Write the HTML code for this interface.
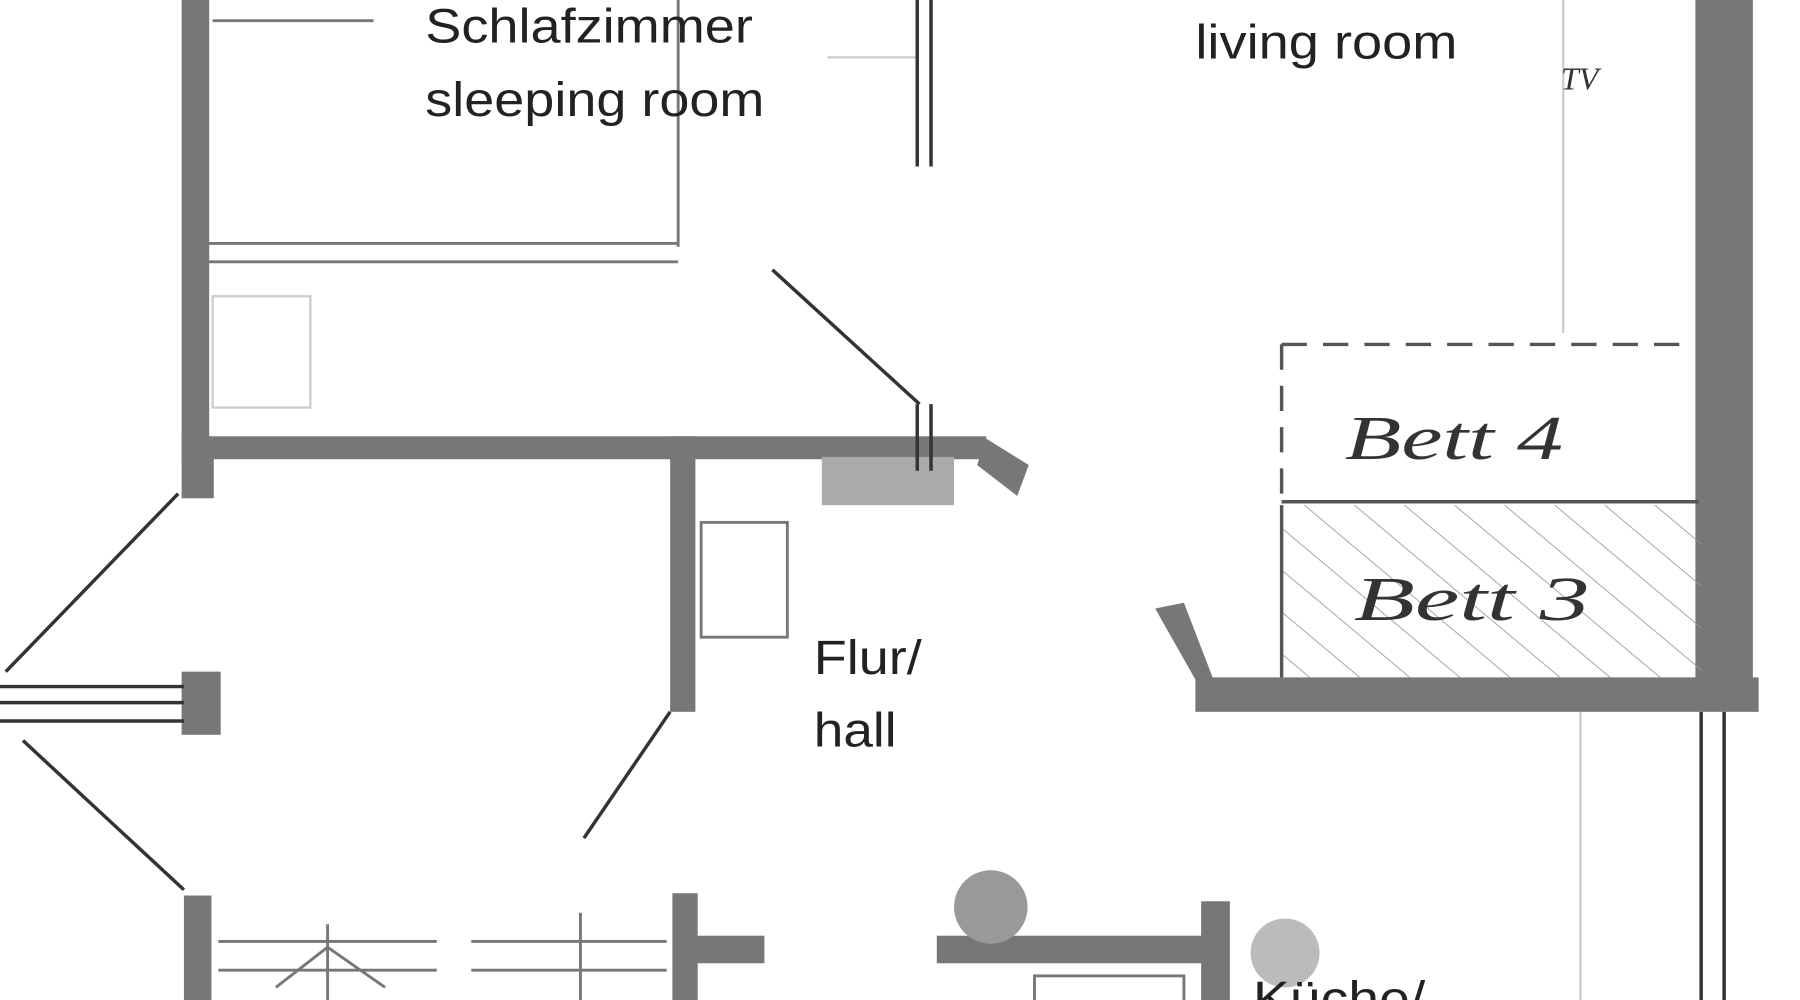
<!DOCTYPE html>
<html><head><meta charset="utf-8">
<style>
html,body{margin:0;padding:0;background:#fff;}
svg{display:block;}
text{font-family:"Liberation Sans",sans-serif;fill:#222;}
.hand{font-family:"Liberation Serif",serif;fill:#333;font-style:italic;}
</style></head>
<body>
<svg width="1800" height="1000" viewBox="0 0 1566 871" preserveAspectRatio="none" xmlns="http://www.w3.org/2000/svg">
<defs>
<pattern id="hatch" width="28" height="28" patternUnits="userSpaceOnUse" patternTransform="rotate(-50)">
<line x1="0" y1="0" x2="0" y2="28" stroke="#999" stroke-width="1.5"/>
</pattern>
</defs>
<rect width="1566" height="871" fill="#fff"/>
<g stroke="#ccc" stroke-width="2" fill="none">
<rect x="185" y="258" width="85" height="97"/>
<line x1="1360" y1="0" x2="1360" y2="290"/>
<line x1="1375" y1="620" x2="1375" y2="871"/>
<line x1="720" y1="50" x2="798" y2="50"/>
</g>
<g fill="#777">
<rect x="158" y="0" width="24" height="400"/>
<rect x="158" y="380" width="700" height="20"/>
<polygon points="858,382 895,405 885,432 850,405"/>
<rect x="583" y="380" width="22" height="240"/>
<rect x="158" y="398" width="28" height="36"/>
<rect x="158" y="585" width="34" height="55"/>
<rect x="160" y="780" width="24" height="91"/>
<rect x="585" y="778" width="22" height="93"/>
<rect x="605" y="815" width="60" height="24"/>
<rect x="815" y="815" width="235" height="24"/>
<rect x="1045" y="785" width="25" height="86"/>
<rect x="1475" y="0" width="50" height="600"/>
<rect x="1040" y="590" width="490" height="30"/>
<polygon points="1005,530 1030,525 1055,590 1040,592"/>
</g>
<rect x="715" y="398" width="115" height="42" fill="#aaa"/>
<circle cx="862" cy="790" r="32" fill="#999"/>
<circle cx="1118" cy="830" r="30" fill="#bbb"/>
<g stroke="#333" stroke-width="3" fill="none">
<line x1="798" y1="0" x2="798" y2="145"/><line x1="810" y1="0" x2="810" y2="145"/>
<line x1="798" y1="352" x2="798" y2="410"/><line x1="810" y1="352" x2="810" y2="410"/>
<line x1="672" y1="235" x2="800" y2="352"/>
<line x1="583" y1="620" x2="508" y2="730"/>
<line x1="155" y1="430" x2="5" y2="585"/>
<line x1="20" y1="645" x2="160" y2="775"/>
<line x1="0" y1="598" x2="160" y2="598"/><line x1="0" y1="612" x2="160" y2="612"/><line x1="0" y1="628" x2="160" y2="628"/>
<line x1="1480" y1="620" x2="1480" y2="871"/><line x1="1500" y1="620" x2="1500" y2="871"/>
</g>
<g stroke="#777" stroke-width="2.5" fill="none">
<line x1="176" y1="212" x2="590" y2="212"/><line x1="176" y1="228" x2="590" y2="228"/>
<line x1="590" y1="0" x2="590" y2="215"/>
<line x1="185" y1="18" x2="325" y2="18"/>
<rect x="610" y="455" width="75" height="100"/>
<line x1="190" y1="820" x2="380" y2="820"/><line x1="190" y1="845" x2="380" y2="845"/>
<line x1="410" y1="820" x2="580" y2="820"/><line x1="410" y1="845" x2="580" y2="845"/>
<line x1="285" y1="805" x2="285" y2="871"/><line x1="505" y1="795" x2="505" y2="871"/>
<line x1="240" y1="860" x2="285" y2="825"/><line x1="285" y1="825" x2="335" y2="860"/>
<rect x="900" y="850" width="130" height="30"/>
</g>
<rect x="1115" y="440" width="365" height="150" fill="url(#hatch)"/>
<g stroke="#555" stroke-width="3" fill="none">
<line x1="1115" y1="300" x2="1470" y2="300" stroke-dasharray="22,14"/>
<line x1="1115" y1="300" x2="1115" y2="435" stroke-dasharray="22,14"/>
<line x1="1115" y1="437" x2="1478" y2="437"/>
<line x1="1115" y1="440" x2="1115" y2="590"/>
</g>
<text x="370" y="37" font-size="42" textLength="285" lengthAdjust="spacingAndGlyphs">Schlafzimmer</text>
<text x="370" y="101" font-size="42" textLength="295" lengthAdjust="spacingAndGlyphs">sleeping room</text>
<text x="1040" y="51" font-size="42" textLength="228" lengthAdjust="spacingAndGlyphs">living room</text>
<text x="708" y="587" font-size="42" textLength="94" lengthAdjust="spacingAndGlyphs">Flur/</text>
<text x="708" y="650" font-size="42" textLength="72" lengthAdjust="spacingAndGlyphs">hall</text>
<text x="1090" y="884" font-size="42" textLength="150" lengthAdjust="spacingAndGlyphs">Küche/</text>
<text class="hand" x="1170" y="400" font-size="54" textLength="190" lengthAdjust="spacingAndGlyphs">Bett  4</text>
<text class="hand" x="1178" y="540" font-size="54" textLength="205" lengthAdjust="spacingAndGlyphs">Bett  3</text>
<text class="hand" x="1358" y="78" font-size="28">TV</text>
</svg>
</body></html>
